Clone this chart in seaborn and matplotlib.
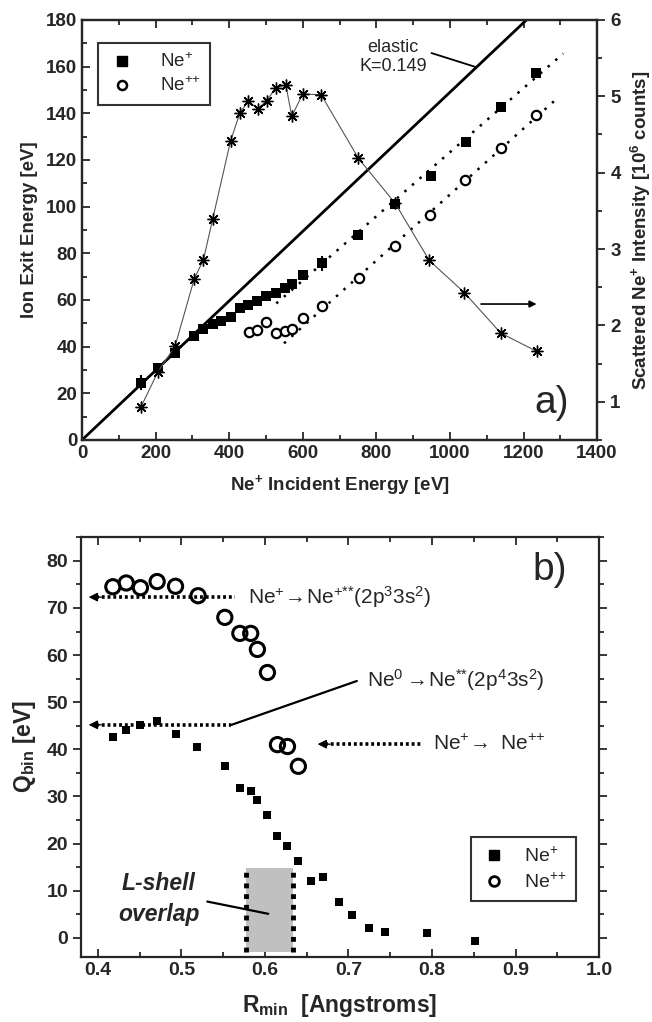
import numpy as np
import pandas as pd
import seaborn as sns
import matplotlib.pyplot as plt
from matplotlib.lines import Line2D
from matplotlib.patches import Rectangle
from matplotlib.ticker import MultipleLocator

# ---- panel a data ----
e_plus = [160, 206, 253, 305, 330, 355, 378, 405, 429, 452, 475, 499, 526, 552, 572,
          600, 651, 751, 852, 948, 1043, 1140, 1234]
exit_plus = [24.5, 30.7, 37.1, 44.5, 47.5, 49.8, 51.1, 52.5, 56.4, 57.8, 59.5, 61.7, 62.8,
             65.1, 66.7, 70.5, 75.7, 87.8, 101, 113, 127.8, 142.7, 157.3]
e_pp = [454, 476, 500, 527, 552, 571, 600, 651, 753, 851, 946, 1041, 1140, 1234]
exit_pp = [46.1, 47.1, 50.4, 45.7, 46.8, 47.4, 52.1, 57.4, 69.5, 83.1, 96.4, 111.3, 125.2, 139.2]
e_scat = [160, 206, 253, 305, 330, 355, 404, 429, 452, 477, 502, 526, 554, 570, 600, 650,
          751, 851, 944, 1039, 1138, 1236]
intensity = [0.93, 1.39, 1.73, 2.61, 2.86, 3.39, 4.42, 4.78, 4.94, 4.84, 4.94, 5.11, 5.15,
             4.74, 5.03, 5.02, 4.19, 3.60, 2.85, 2.43, 1.90, 1.66]
err_e = [160, 651]
err_v = [24.5, 75.7]
err_size = [3.2, 3.2]
fit_plus_e = [528, 1308]
fit_plus = [58.5, 165.6]
fit_pp_e = [549, 1293]
fit_pp = [41.4, 146.6]
K = 0.149
elastic_e = [0, 1400]

# ---- panel b data ----
r_plus = [0.418, 0.434, 0.451, 0.471, 0.493, 0.519, 0.552, 0.570, 0.583, 0.590, 0.602,
          0.615, 0.627, 0.640, 0.655, 0.670, 0.689, 0.704, 0.724, 0.744, 0.794, 0.852]
q_plus = [42.6, 44.2, 45.1, 46.0, 43.3, 40.6, 36.5, 31.8, 31.1, 29.3, 26.1, 21.6, 19.4,
          16.2, 12.1, 13.0, 7.7, 4.9, 2.1, 1.3, 1.1, -0.6]
r_pp = [0.418, 0.434, 0.451, 0.471, 0.493, 0.520, 0.552, 0.570, 0.583, 0.591, 0.603,
        0.615, 0.627, 0.640]
q_pp = [74.5, 75.3, 74.3, 75.6, 74.6, 72.6, 68.0, 64.6, 64.6, 61.2, 56.3, 41.0, 40.6, 36.4]
overlap = [0.577, 0.634]

labels = ['Ne$^{+}$', 'Ne$^{+{+}}$']

sns.set_style('ticks')
plt.rcParams['font.family'] = ['Liberation Sans', 'DejaVu Sans']
plt.rcParams['mathtext.fontset'] = 'custom'
plt.rcParams['mathtext.rm'] = 'Liberation Sans'
plt.rcParams['mathtext.default'] = 'regular'
plt.rcParams['axes.linewidth'] = 1.6

fig = plt.figure(figsize=(6.52, 10.22), dpi=100)
ax1 = fig.add_axes([0.1258, 0.5695, 0.790, 0.411])
ax2 = fig.add_axes([0.1244, 0.0639, 0.7945, 0.4104])


def style_ticks(ax, size, left_dir='in'):
    ax.tick_params(which='both', top=True, right=True, direction='in', width=1.3,
                   labelsize=size)
    ax.tick_params(axis='y', which='both', left=True, direction=left_dir)
    ax.tick_params(which='major', length=6)
    ax.tick_params(which='minor', length=3.5)
    for lab in ax.get_xticklabels() + ax.get_yticklabels():
        lab.set_fontweight('bold')


# ---------------- panel a ----------------
df_plus = pd.DataFrame({'E': e_plus, 'exit': exit_plus})
df_pp = pd.DataFrame({'E': e_pp, 'exit': exit_pp})

ax1.plot(elastic_e, [K * e for e in elastic_e], color='black', lw=2)
ax1.plot(fit_plus_e, fit_plus, color='black', lw=1.8, ls=(0, (1, 3)))
ax1.plot(fit_pp_e, fit_pp, color='black', lw=1.8, ls=(0, (1, 3)))
ax1.errorbar(err_e, err_v, yerr=err_size, fmt='none', ecolor='black', elinewidth=1.5)
sns.scatterplot(data=df_plus, x='E', y='exit', marker='s', s=42, color='black',
                edgecolor='black', linewidth=0, ax=ax1, zorder=4)
sns.scatterplot(data=df_pp, x='E', y='exit', marker='o', s=45, facecolor='white',
                edgecolor='black', linewidth=1.6, ax=ax1, zorder=4)

ax1.set_xlim(0, 1400)
ax1.set_ylim(0, 180)
ax1.xaxis.set_major_locator(MultipleLocator(200))
ax1.xaxis.set_minor_locator(MultipleLocator(100))
ax1.yaxis.set_major_locator(MultipleLocator(20))
ax1.yaxis.set_minor_locator(MultipleLocator(10))
style_ticks(ax1, 13.5)
ax1.tick_params(right=False, which='both')

ax1.text(845, 164, 'elastic\nK=0.149', fontsize=13, ha='center', va='center',
         linespacing=1.15)
ax1.plot([950, 1072], [165.8, K * 1072], color='black', lw=1.3)
ax1.text(1276, 16, 'a)', fontsize=28, ha='center', va='center')

leg_handles = [Line2D([], [], marker='s', ls='none', color='black', markersize=6.5),
               Line2D([], [], marker='o', ls='none', markerfacecolor='white',
                      markeredgecolor='black', markeredgewidth=1.8, markersize=6.5)]
leg1 = ax1.legend(leg_handles, labels, loc='upper left',
                  bbox_to_anchor=(0.031, 0.945), fontsize=13.5, frameon=True,
                  fancybox=False, edgecolor='black', borderpad=0.5, handletextpad=1.2,
                  labelspacing=0.3, borderaxespad=0, handlelength=1.6)
leg1.get_frame().set_linewidth(1.5)

ax1r = ax1.twinx()
df_scat = pd.DataFrame({'E': e_scat, 'I': intensity})
sns.lineplot(data=df_scat, x='E', y='I', color='#555555', lw=0.8, marker=(8, 2, 0),
             markersize=8.5, markeredgecolor='black', markeredgewidth=1.0, ax=ax1r)
ax1r.annotate('', xy=(1243, 2.28), xytext=(1077, 2.28),
              arrowprops=dict(arrowstyle='-|>', color='black', lw=1.2,
                              mutation_scale=10))
ax1r.set_ylim(0.5, 6)
ax1r.yaxis.set_major_locator(MultipleLocator(1))
ax1r.yaxis.set_minor_locator(MultipleLocator(0.5))
ax1r.set_ylabel('Scattered Ne$^{+}$ Intensity [10$^{6}$ counts]', fontsize=13.5,
                fontweight='bold', labelpad=6)
ax1r.set_xlabel('')
ax1r.tick_params(which='both', direction='out', width=1.3, labelsize=13.5)
ax1r.tick_params(which='major', length=6)
ax1r.tick_params(which='minor', length=3.5)
for lab in ax1r.get_yticklabels():
    lab.set_fontweight('bold')
ax1.set_xlabel('Ne$^{+}$ Incident Energy [eV]', fontsize=13.5, fontweight='bold',
               labelpad=8)
ax1.set_ylabel('Ion Exit Energy [eV]', fontsize=13.5, fontweight='bold', labelpad=6)

# ---------------- panel b ----------------
ax2.add_patch(Rectangle((overlap[0], -2.9), overlap[1] - overlap[0], 17.7,
                        facecolor='#c0c0c0', edgecolor='none', zorder=1))
for xv in overlap:
    ax2.plot([xv, xv], [-2.9, 14.8], color='black', lw=3.5, ls=(0, (1, 1.2)), zorder=2)

df_bplus = pd.DataFrame({'R': r_plus, 'Q': q_plus})
df_bpp = pd.DataFrame({'R': r_pp, 'Q': q_pp})
sns.scatterplot(data=df_bplus, x='R', y='Q', marker='s', s=40, color='black',
                linewidth=0, ax=ax2, zorder=4)
sns.scatterplot(data=df_bpp, x='R', y='Q', marker='o', s=105, facecolor='none',
                edgecolor='black', linewidth=2.2, ax=ax2, zorder=4)

# dotted arrows
dot = dict(color='black', lw=2.6, ls=(0, (0.8, 0.8)), zorder=3)
ax2.plot([0.398, 0.564], [72.3, 72.3], **dot)
ax2.plot([0.398, 0.560], [45.2, 45.2], **dot)
ax2.plot([0.672, 0.787], [41.1, 41.1], **dot)
for x0, x1, y in [(0.404, 0.389, 72.3), (0.404, 0.389, 45.2), (0.678, 0.663, 41.1)]:
    ax2.annotate('', xy=(x1, y), xytext=(x0, y),
                 arrowprops=dict(arrowstyle='-|>', color='black', lw=1,
                                 mutation_scale=13, shrinkA=0, shrinkB=0))
ax2.plot([0.560, 0.710], [45.2, 54.5], color='black', lw=1.6)

ax2.text(0.580, 72.3, 'Ne$^{+}$$\\!\\rightarrow\\!$Ne$^{+{*}{*}}$(2p$^{3}$3s$^{2}$)',
         fontsize=15, ha='left', va='center')
ax2.text(0.722, 54.7, 'Ne$^{0}$$\\rightarrow\\!$Ne$^{{*}{*}}$(2p$^{4}$3s$^{2}$)',
         fontsize=15, ha='left', va='center')
ax2.text(0.801, 41.1, 'Ne$^{+}$$\\!\\rightarrow$ Ne$^{+{+}}$', fontsize=15, ha='left',
         va='center')
ax2.text(0.941, 78, 'b)', fontsize=28, ha='center', va='center')

ax2.text(0.473, 11.5, 'L-shell', fontsize=16.5, fontweight='bold', style='italic',
         ha='center', va='center')
ax2.text(0.473, 5.0, 'overlap', fontsize=16.5, fontweight='bold', style='italic',
         ha='center', va='center')
ax2.plot([0.531, 0.604], [7.7, 5.1], color='black', lw=1.6, zorder=5)

ax2.set_xlim(0.38, 1.0)
ax2.set_ylim(-4, 85)
ax2.xaxis.set_major_locator(MultipleLocator(0.1))
ax2.xaxis.set_minor_locator(MultipleLocator(0.05))
ax2.yaxis.set_major_locator(MultipleLocator(10))
ax2.yaxis.set_minor_locator(MultipleLocator(5))
ax2.set_xlabel('R$_{min}$  [Angstroms]', fontsize=16.5, fontweight='bold', labelpad=10)
ax2.set_ylabel('Q$_{bin}$ [eV]', fontsize=16.5, fontweight='bold', labelpad=6)
style_ticks(ax2, 14, left_dir='out')
ax2.xaxis.set_major_formatter(plt.FuncFormatter(lambda v, p: f'{v:.1f}'))
for lab in ax2.get_xticklabels() + ax2.get_yticklabels():
    lab.set_fontweight('bold')

leg_handles2 = [Line2D([], [], marker='s', ls='none', color='black', markersize=7.5),
                Line2D([], [], marker='o', ls='none', markerfacecolor='white',
                       markeredgecolor='black', markeredgewidth=2, markersize=7)]
leg2 = ax2.legend(leg_handles2, labels, loc='upper right',
                  bbox_to_anchor=(0.955, 0.285), fontsize=14, frameon=True,
                  fancybox=False, edgecolor='black', borderpad=0.5, handletextpad=0.9,
                  labelspacing=0.3, borderaxespad=0, handlelength=1.3)
leg2.get_frame().set_linewidth(1.5)

fig.savefig('out.png', dpi=100)
